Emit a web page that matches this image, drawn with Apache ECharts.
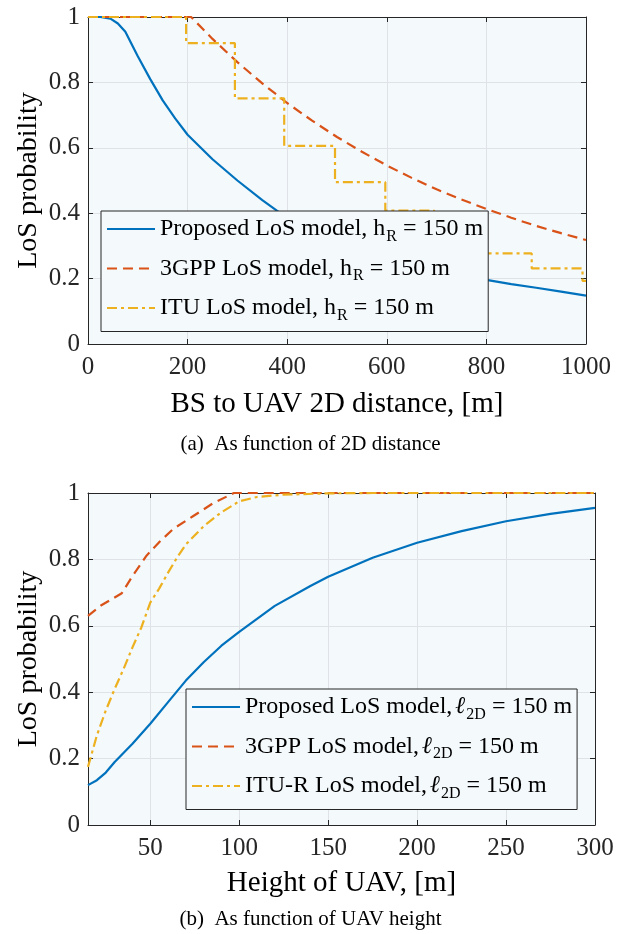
<!DOCTYPE html>
<html>
<head>
    <meta charset="utf-8">
    <title>LoS probability</title>
    <script src="https://cdn.jsdelivr.net/npm/echarts@6/dist/echarts.min.js"></script>
    <style>
        html, body { margin: 0; padding: 0; background: #ffffff; }
        #chart { width: 621px; height: 934px; }
    </style>
</head>
<body>
<div id="chart"></div>
<script>
    // (a) LoS probability vs 2D distance, h_R = 150 m
    var propDist = [0, 25, 45, 60, 75, 100, 125, 150, 175, 200, 250, 300, 350, 400, 450, 500, 550, 600, 650, 700, 750, 800, 850, 900, 950, 1000];
    var propDistVal = [1, 1, 0.995, 0.98, 0.955, 0.88, 0.81, 0.745, 0.69, 0.64, 0.565, 0.5, 0.44, 0.385, 0.345, 0.31, 0.283, 0.26, 0.24, 0.222, 0.208, 0.196, 0.183, 0.172, 0.16, 0.148];
    var gppDist = [0, 207, 250, 300, 350, 400, 450, 500, 550, 600, 650, 700, 750, 800, 850, 900, 950, 1000];
    var gppDistVal = [1, 1, 0.933, 0.862, 0.797, 0.737, 0.683, 0.633, 0.588, 0.546, 0.508, 0.473, 0.442, 0.413, 0.386, 0.361, 0.339, 0.318];
    var ituDist = [0, 197, 295, 394, 496, 597, 695, 795, 891, 993, 1000];
    var ituDistVal = [1, 0.92, 0.751, 0.606, 0.495, 0.408, 0.335, 0.277, 0.231, 0.193, 0.193];

    // (b) LoS probability vs UAV height, l_2D = 150 m
    var propH = [15, 20, 25, 30, 40, 50, 60, 70, 80, 90, 100, 120, 140, 150, 175, 200, 225, 250, 275, 300];
    var propHVal = [0.12, 0.135, 0.158, 0.19, 0.245, 0.305, 0.37, 0.435, 0.49, 0.54, 0.582, 0.66, 0.72, 0.748, 0.805, 0.85, 0.885, 0.915, 0.937, 0.955];
    var gppH = [15, 22.5, 34, 40, 48, 55, 63, 74, 85, 97, 300];
    var gppHVal = [0.63, 0.662, 0.698, 0.75, 0.812, 0.852, 0.892, 0.93, 0.968, 1, 1];
    var ituH = [15, 20, 25, 30, 35, 40, 45, 50, 55, 60, 65, 70, 80, 90, 100, 110, 125, 150, 175, 300];
    var ituHVal = [0.175, 0.27, 0.345, 0.41, 0.47, 0.535, 0.595, 0.67, 0.712, 0.76, 0.805, 0.845, 0.9, 0.942, 0.975, 0.988, 0.995, 0.999, 1, 1];

    var distTicks = [0, 200, 400, 600, 800, 1000];
    var heightTicks = [50, 100, 150, 200, 250, 300];

    var namesA = ['Proposed LoS model, hR = 150 m', '3GPP LoS model, hR = 150 m', 'ITU LoS model, hR = 150 m'];
    var namesB = ['Proposed LoS model, l2D = 150 m', '3GPP LoS model, l2D = 150 m', 'ITU-R LoS model, l2D = 150 m'];
    var richNames = {};
    richNames[namesA[0]] = '{a|Proposed LoS model, h}{s|R}{a| = 150 m}';
    richNames[namesA[1]] = '{a|3GPP LoS model, h}{s|R}{a| = 150 m}';
    richNames[namesA[2]] = '{a|ITU LoS model, h}{s|R}{a| = 150 m}';
    richNames[namesB[0]] = '{a|Proposed LoS model,}{l|ℓ}{s|2D}{a| = 150 m}';
    richNames[namesB[1]] = '{a|3GPP LoS model,}{l|ℓ}{s|2D}{a| = 150 m}';
    richNames[namesB[2]] = '{a|ITU-R LoS model,}{l|ℓ}{s|2D}{a| = 150 m}';

    function pairs(xs, ys) {
        return xs.map(function (x, i) { return [x, ys[i]]; });
    }

    var FONT = 'Liberation Serif';
    var AXIS = '#262626';
    var BG = '#F4F9FC';
    var GRIDLINE = '#dfe3e7';
    var BLUE = '#0072BD', RED = '#D95319', YEL = '#EDB120';

    var chart = echarts.init(document.getElementById('chart'));

    function xAxisPair(gridIndex, min, max, ticks, name, gap) {
        var bottom = {
            type: 'value', gridIndex: gridIndex, min: min, max: max, position: 'bottom',
            name: name, nameLocation: 'middle', nameGap: gap, nameMoveOverlap: false,
            nameTextStyle: {fontFamily: FONT, fontSize: 29, color: '#000'},
            axisLine: {onZero: false, lineStyle: {color: AXIS, width: 1}},
            axisTick: {inside: true, length: 5, customValues: ticks, lineStyle: {color: AXIS}},
            axisLabel: {customValues: ticks, margin: 11, fontFamily: FONT, fontSize: 25, color: AXIS,
                formatter: function (v) { return String(v); }},
            splitLine: {show: true, lineStyle: {color: GRIDLINE, width: 1}}
        };
        var top = {
            type: 'value', gridIndex: gridIndex, min: min, max: max, position: 'top',
            axisLine: {onZero: false, lineStyle: {color: AXIS, width: 1}},
            axisTick: {inside: true, length: 5, customValues: ticks, lineStyle: {color: AXIS}},
            axisLabel: {show: false},
            splitLine: {show: false}
        };
        return [bottom, top];
    }

    function yAxisPair(gridIndex) {
        var left = {
            type: 'value', gridIndex: gridIndex, min: 0, max: 1, interval: 0.2, position: 'left',
            name: 'LoS probability', nameLocation: 'middle', nameGap: 45, nameMoveOverlap: false,
            nameTextStyle: {fontFamily: FONT, fontSize: 28, color: '#000'},
            axisLine: {show: true, onZero: false, lineStyle: {color: AXIS, width: 1}},
            axisTick: {show: true, inside: true, length: 5, lineStyle: {color: AXIS}},
            axisLabel: {margin: 8, fontFamily: FONT, fontSize: 25, color: AXIS,
                formatter: function (v) { return (Math.round(v * 10) / 10).toString(); }},
            splitLine: {show: true, lineStyle: {color: GRIDLINE, width: 1}}
        };
        var right = {
            type: 'value', gridIndex: gridIndex, min: 0, max: 1, interval: 0.2, position: 'right',
            axisLine: {show: true, onZero: false, lineStyle: {color: AXIS, width: 1}},
            axisTick: {show: true, inside: true, length: 5, lineStyle: {color: AXIS}},
            axisLabel: {show: false},
            splitLine: {show: false}
        };
        return [left, right];
    }

    function legendBox(left, top, names, pad) {
        return {
            left: left, top: top, orient: 'vertical', data: names,
            backgroundColor: BG, borderColor: AXIS, borderWidth: 1, borderRadius: 0,
            padding: pad, itemGap: 12, itemWidth: 48, itemHeight: 2,
            selectedMode: false,
            formatter: function (n) { return richNames[n]; },
            textStyle: {
                fontFamily: FONT, fontSize: 24, color: '#000',
                rich: {
                    a: {fontFamily: FONT, fontSize: 24, color: '#000'},
                    l: {fontFamily: FONT, fontSize: 24, fontStyle: 'italic', color: '#000', padding: [0, 0, 0, 3]},
                    s: {fontFamily: FONT, fontSize: 16, color: '#000', padding: [15, 0, 0, 1]}
                }
            }
        };
    }

    function line(name, xi, yi, data, color, type, extra) {
        var s = {
            name: name, type: 'line', xAxisIndex: xi, yAxisIndex: yi,
            data: data, showSymbol: false, symbol: 'none', animation: false,
            lineStyle: {color: color, width: 2.2, type: type},
            itemStyle: {color: color}
        };
        if (extra) { for (var k in extra) s[k] = extra[k]; }
        return s;
    }

    var xa = xAxisPair(0, 0, 1000, distTicks, 'BS to UAV 2D distance, [m]', 46);
    var xb = xAxisPair(1, 15, 300, heightTicks, 'Height of UAV, [m]', 44);
    var ya = yAxisPair(0);
    var yb = yAxisPair(1);

    var option = {
        backgroundColor: '#ffffff',
        title: [
            {text: '(a)  As function of 2D distance', left: 'center', top: 429,
                textStyle: {fontFamily: FONT, fontSize: 21, fontWeight: 'normal', color: '#000'}},
            {text: '(b)  As function of UAV height', left: 'center', top: 904,
                textStyle: {fontFamily: FONT, fontSize: 21, fontWeight: 'normal', color: '#000'}}
        ],
        grid: [
            {left: 88, top: 17, width: 498, height: 327, show: true, backgroundColor: BG, borderWidth: 0},
            {left: 88, top: 493, width: 507, height: 332, show: true, backgroundColor: BG, borderWidth: 0}
        ],
        xAxis: [xa[0], xa[1], xb[0], xb[1]],
        yAxis: [ya[0], ya[1], yb[0], yb[1]],
        legend: [
            legendBox(101, 211, namesA, [6, 5, 8, 5]),
            legendBox(186, 689, namesB, [6, 5, 8, 5])
        ],
        series: [
            line(namesA[0], 0, 0, pairs(propDist, propDistVal), BLUE, 'solid'),
            line(namesA[1], 0, 0, pairs(gppDist, gppDistVal), RED, [10, 6]),
            line(namesA[2], 0, 0, pairs(ituDist, ituDistVal), YEL, [10, 4, 3, 4], {step: 'end'}),
            line(namesB[0], 2, 2, pairs(propH, propHVal), BLUE, 'solid'),
            line(namesB[1], 2, 2, pairs(gppH, gppHVal), RED, [10, 6]),
            line(namesB[2], 2, 2, pairs(ituH, ituHVal), YEL, [10, 4, 3, 4])
        ]
    };
    chart.setOption(option);

    window.onresize = function () {
        chart.resize();
    };
</script>
</body>
</html>
